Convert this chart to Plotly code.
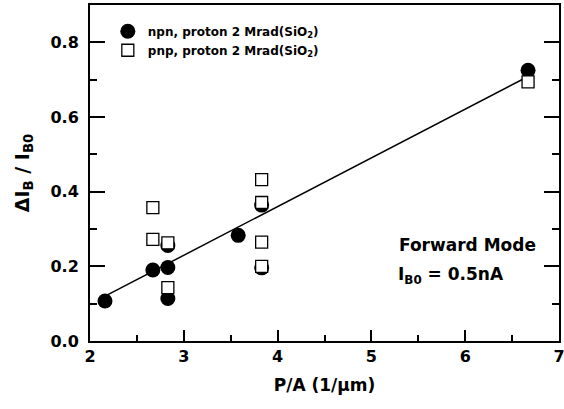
import plotly.graph_objects as go

npn_x = [2.16, 2.67, 2.83, 2.83, 2.83, 3.58, 3.83, 3.83, 6.67]
npn_y = [0.107, 0.19, 0.197, 0.256, 0.114, 0.283, 0.364, 0.196, 0.725]
pnp_x = [2.67, 2.67, 2.83, 2.83, 3.83, 3.83, 3.83, 3.83, 6.67]
pnp_y = [0.357, 0.272, 0.263, 0.143, 0.432, 0.371, 0.265, 0.200, 0.694]
fit_intercept = 0.12
fit_slope = 0.1305
fit_x0 = 2.16
fit_x = [2.16, 6.67]
fit_y = [fit_intercept + fit_slope * (x - fit_x0) for x in fit_x]

font = "DejaVu Sans, Liberation Sans, Arial, sans-serif"

fig = go.Figure()
fig.add_trace(go.Scatter(x=fit_x, y=fit_y, mode="lines", line=dict(color="black", width=1.5),
                         showlegend=False, hoverinfo="skip"))
fig.add_trace(go.Scatter(x=npn_x, y=npn_y, mode="markers", name="<b>npn, proton 2 Mrad(SiO<sub>2</sub>)</b>",
                         marker=dict(symbol="circle", size=15, color="black", line=dict(width=0))))
fig.add_trace(go.Scatter(x=pnp_x, y=pnp_y, mode="markers", name="<b>pnp, proton 2 Mrad(SiO<sub>2</sub>)</b>",
                         marker=dict(symbol="square", size=12, color="white", line=dict(color="black", width=1.3))))

tickfont = dict(family=font, size=16, color="black", weight="bold")

fig.update_xaxes(range=[2, 7], dtick=1, tick0=2, automargin=False, ticklabeloverflow="allow",
                 showline=True, linecolor="black", linewidth=2, mirror=True, showgrid=False, zeroline=False,
                 ticks="inside", tickcolor="black", tickwidth=1.5, ticklen=11, tickfont=tickfont,
                 minor=dict(dtick=0.5, ticks="inside", ticklen=6, tickcolor="black", tickwidth=1.5),
                 title=dict(text="<b>P/A (1/μm)</b>", font=dict(family=font, size=17, color="black"), standoff=14))
fig.update_yaxes(range=[0, 0.9], dtick=0.2, tick0=0, tickformat=".1f", automargin=False, ticklabeloverflow="allow",
                 showline=True, linecolor="black", linewidth=2, mirror="ticks", showgrid=False, zeroline=False,
                 ticks="inside", tickcolor="black", tickwidth=1.5, ticklen=15, tickfont=tickfont,
                 ticklabelstandoff=6,
                 minor=dict(dtick=0.1, ticks="inside", ticklen=7, tickcolor="black", tickwidth=1.5),
                 title=dict(text="<b>ΔI<sub>B</sub> / I<sub>B0</sub></b>", font=dict(family=font, size=19, color="black"), standoff=16))

fig.add_annotation(x=0.805, y=0.286, xref="paper", yref="paper", text="<b>Forward Mode</b>", showarrow=False,
                   font=dict(family=font, size=17, color="black"), xanchor="center", yanchor="middle")
fig.add_annotation(x=0.653, y=0.195, xref="paper", yref="paper", text="<b>I<sub>B0</sub> = 0.5nA</b>", showarrow=False,
                   font=dict(family=font, size=17, color="black"), xanchor="left", yanchor="middle")

fig.update_layout(
    width=564, height=409,
    margin=dict(l=90, r=5, t=5, b=68),
    paper_bgcolor="white", plot_bgcolor="white",
    legend=dict(x=0.038, y=0.965, xanchor="left", yanchor="top", bgcolor="rgba(0,0,0,0)",
                font=dict(family=font, size=12, color="black"), tracegroupgap=2, itemsizing="trace"),
    showlegend=True,
)

fig.write_html(
    "out.html",
    config={"displayModeBar": False},
    post_script="document.documentElement.style.overflow='hidden';document.body.style.margin='0';document.body.style.overflow='hidden';",
)
